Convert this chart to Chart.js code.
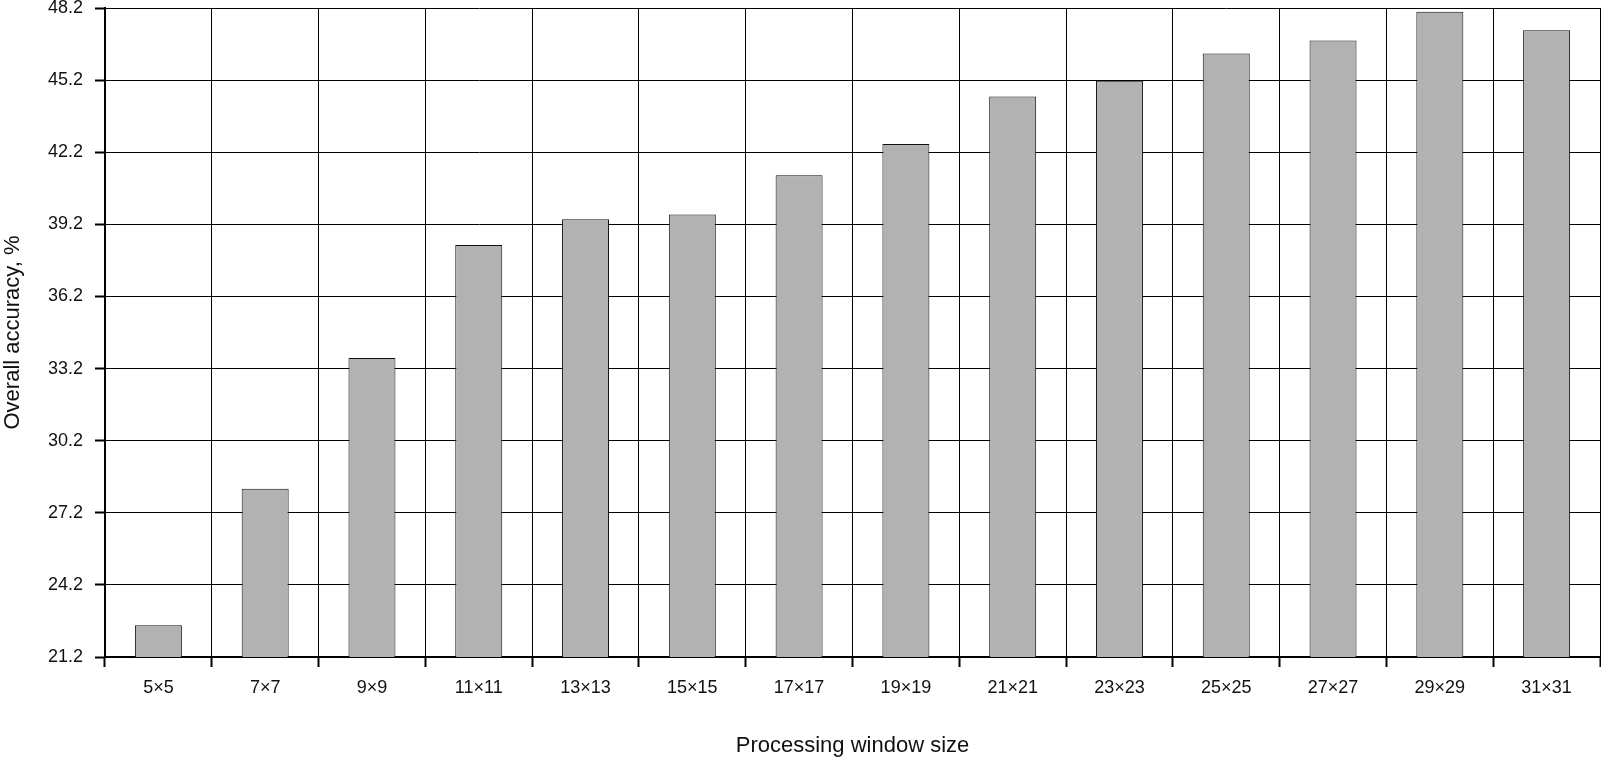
<!DOCTYPE html>
<html>
<head>
<meta charset="utf-8">
<script src="https://cdn.jsdelivr.net/npm/chart.js@4"></script>
<style>
  html, body { margin: 0; padding: 0; background: #fff; }
  #wrap { width: 1601px; height: 762px; position: relative; }
</style>
</head>
<body>
<div id="wrap"><canvas id="accChart"></canvas></div>
<script>
const windowSizes = ["5×5", "7×7", "9×9", "11×11", "13×13", "15×15", "17×17",
    "19×19", "21×21", "23×23", "25×25", "27×27", "29×29", "31×31"];
const accuracy = [22.52, 28.2, 33.64, 38.34, 39.41, 39.61, 41.24,
    42.54, 44.52, 45.17, 46.31, 46.85, 48.04, 47.27];
const yMin = 21.2;
const yMax = 48.2;
const yStep = 3;

const fontFamily = "'Liberation Sans', Arial, sans-serif";

const ctx = document.getElementById("accChart").getContext("2d");

new Chart(ctx, {
    type: "bar",
    data: {
        labels: windowSizes,
        datasets: [
            {
                data: accuracy,
                backgroundColor: "#b2b2b2",
                borderColor: "#111",
                borderWidth: 1,
                barPercentage: 0.44,
                categoryPercentage: 1,
            },
        ],
    },
    options: {
        responsive: true,
        maintainAspectRatio: false,
        animation: false,
        layout: {
            padding: { top: 8, right: 1, bottom: 0, left: 0 },
        },
        plugins: {
            legend: { display: false },
            tooltip: { enabled: false },
        },
        scales: {
            x: {
                offset: true,
                grid: {
                    offset: true,
                    color: "#000",
                    lineWidth: 1,
                    tickLength: 10,
                    tickWidth: 2,
                    tickColor: "#000",
                },
                border: { color: "#000", width: 2 },
                ticks: {
                    color: "#111",
                    padding: 10,
                    maxRotation: 0,
                    font: { family: fontFamily, size: 18 },
                },
                title: {
                    display: true,
                    text: "Processing window size",
                    color: "#111",
                    padding: { top: 0, bottom: 3 },
                    font: { family: fontFamily, size: 22 },
                },
                afterFit(scale) {
                    scale.height = 105;
                    scale.paddingLeft = 0;
                    scale.paddingRight = 0;
                },
            },
            y: {
                min: yMin,
                max: yMax,
                grid: {
                    color: "#000",
                    lineWidth: 1,
                    tickLength: 10,
                    tickWidth: 2,
                    tickColor: "#000",
                },
                border: { color: "#000", width: 2 },
                ticks: {
                    stepSize: yStep,
                    color: "#111",
                    padding: 12,
                    font: { family: fontFamily, size: 18 },
                    callback: (v) => Number(v).toFixed(1),
                },
                title: {
                    display: true,
                    text: "Overall accuracy, %",
                    color: "#111",
                    padding: { top: 0, bottom: 0 },
                    font: { family: fontFamily, size: 22 },
                },
                afterFit(scale) {
                    scale.width = 105;
                    scale.paddingTop = 0;
                    scale.paddingBottom = 0;
                },
            },
        },
    },
});
</script>
</body>
</html>
